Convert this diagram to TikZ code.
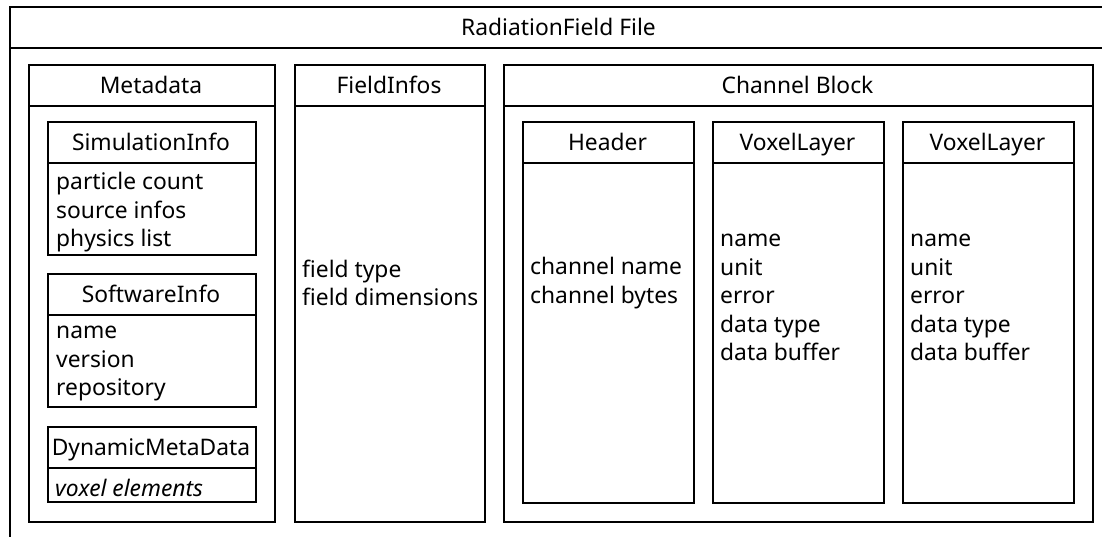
\documentclass[tikz,border=0pt]{standalone}
\usepackage{fontspec}
\setmainfont{Noto Sans}
\begin{document}
\begin{tikzpicture}[x=1pt,y=-1pt,
  box/.style={draw, line width=2pt, rectangle, inner sep=0pt, anchor=north west},
  ttl/.style={font=\fontsize{22.8}{28.5}\selectfont, inner sep=0pt, text height=16.4pt, text depth=5.4pt, yshift=-2.5pt},
  lst/.style={font=\fontsize{22.8}{28.5}\selectfont, align=left, anchor=west, inner sep=0pt},
  sep/.style={line width=2pt}]
\useasboundingbox (0,0) rectangle (1102,536);
\clip (0,0) rectangle (1102,536);
% outer file box (cropped at right and bottom)
\node[box, minimum width=1105pt, minimum height=600pt] (file) at (9,6) {};
\draw[sep] ([yshift=-42pt]file.north west) -- ([yshift=-42pt]file.north east);
\node[ttl] (filet) at (558.5,27) {RadiationField File};
% Metadata
\node[box, minimum width=246pt, minimum height=457pt] (meta) at (28,64) {};
\draw[sep] ([yshift=-42pt]meta.north west) -- ([yshift=-42pt]meta.north east);
\node[ttl] (metat) at (151,85) {Metadata};
% SimulationInfo
\node[box, minimum width=208pt, minimum height=133pt] (sim) at (47,121) {};
\draw[sep] ([yshift=-42pt]sim.north west) -- ([yshift=-42pt]sim.north east);
\node[ttl] (simt) at (151,142) {SimulationInfo};
\node[lst] (simb) at (56,212.5) {particle count\\source infos\\physics list};
% SoftwareInfo
\node[box, minimum width=208pt, minimum height=133pt] (soft) at (47,273) {};
\draw[sep] ([yshift=-42pt]soft.north west) -- ([yshift=-42pt]soft.north east);
\node[ttl] (softt) at (151,294) {SoftwareInfo};
\node[lst] (softb) at (56,364) {name\\version\\repository};
% DynamicMetaData
\node[box, minimum width=208pt, minimum height=75pt] (dyn) at (47,426) {};
\draw[sep] ([yshift=-42pt]dyn.north west) -- ([yshift=-42pt]dyn.north east);
\node[ttl] (dynt) at (151,447) {DynamicMetaData};
\node[lst] (dynb) at (55,487.5) {\itshape voxel elements};
% FieldInfos
\node[box, minimum width=190pt, minimum height=457pt] (field) at (294,64) {};
\draw[sep] ([yshift=-42pt]field.north west) -- ([yshift=-42pt]field.north east);
\node[ttl] (fieldt) at (389,85) {FieldInfos};
\node[lst] (fieldb) at (302,283) {field type\\field dimensions};
% Channel Block
\node[box, minimum width=589pt, minimum height=457pt] (chan) at (503,64) {};
\draw[sep] ([yshift=-42pt]chan.north west) -- ([yshift=-42pt]chan.north east);
\node[ttl] (chant) at (797.5,85) {Channel Block};
% Header
\node[box, minimum width=171pt, minimum height=381pt] (hdr) at (522,121) {};
\draw[sep] ([yshift=-42pt]hdr.north west) -- ([yshift=-42pt]hdr.north east);
\node[ttl] (hdrt) at (607.5,142) {Header};
\node[lst] (hdrb) at (530,283) {channel name\\channel bytes};
% VoxelLayer 1
\node[box, minimum width=171pt, minimum height=381pt] (vl1) at (712,121) {};
\draw[sep] ([yshift=-42pt]vl1.north west) -- ([yshift=-42pt]vl1.north east);
\node[ttl] (vl1t) at (797.5,142) {VoxelLayer};
\node[lst] (vl1b) at (720,297.5) {name\\unit\\error\\data type\\data buffer};
% VoxelLayer 2
\node[box, minimum width=171pt, minimum height=381pt] (vl2) at (902,121) {};
\draw[sep] ([yshift=-42pt]vl2.north west) -- ([yshift=-42pt]vl2.north east);
\node[ttl] (vl2t) at (987.5,142) {VoxelLayer};
\node[lst] (vl2b) at (910,297.5) {name\\unit\\error\\data type\\data buffer};
\end{tikzpicture}
\end{document}
